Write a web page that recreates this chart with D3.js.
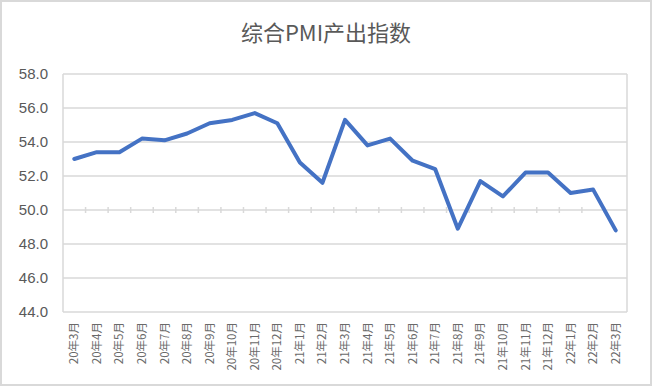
<!DOCTYPE html>
<html>
<head>
<meta charset="utf-8">
<script src="https://cdn.jsdelivr.net/npm/d3@7"></script>
<style>
  body { margin: 0; background: #fff; }
  svg { display: block; }
</style>
</head>
<body>
<svg id="chart"></svg>
<script>
const months = ["20年3月", "20年4月", "20年5月", "20年6月", "20年7月", "20年8月", "20年9月",
    "20年10月", "20年11月", "20年12月", "21年1月", "21年2月", "21年3月", "21年4月", "21年5月",
    "21年6月", "21年7月", "21年8月", "21年9月", "21年10月", "21年11月", "21年12月",
    "22年1月", "22年2月", "22年3月"];
const pmi = [53.0, 53.4, 53.4, 54.2, 54.1, 54.5, 55.1, 55.3, 55.7, 55.1, 52.8, 51.6, 55.3,
    53.8, 54.2, 52.9, 52.4, 48.9, 51.7, 50.8, 52.2, 52.2, 51.0, 51.2, 48.8];
const yTicks = [44, 46, 48, 50, 52, 54, 56, 58];

const svgWidth = 652, svgHeight = 386;
const margin = { top: 74, right: 25, bottom: 74, left: 63 };
const width = svgWidth - margin.left - margin.right;
const height = svgHeight - margin.top - margin.bottom;
const grey = "#d9d9d9";
const textColor = "#595959";

let svg = d3.select("#chart")
    .attr("width", svgWidth)
    .attr("height", svgHeight);

// outer chart border
svg.append("rect")
    .attr("x", 1).attr("y", 1)
    .attr("width", svgWidth - 2).attr("height", svgHeight - 2)
    .attr("fill", "#fff")
    .attr("stroke", grey)
    .attr("stroke-width", 2);

svg.append("text")
    .attr("x", 326)
    .attr("y", 41)
    .attr("text-anchor", "middle")
    .style("font-family", "'Noto Sans CJK SC', sans-serif")
    .style("font-size", "22px")
    .style("fill", textColor)
    .text("综合PMI产出指数");

let g = svg.append("g")
    .attr("transform", `translate(${margin.left},${margin.top})`);

const x = d3.scaleBand()
    .domain(months)
    .range([0, width]);

const y = d3.scaleLinear()
    .domain([44, 58])
    .range([height, 0]);

// gridlines
g.selectAll(".grid")
    .data(yTicks)
    .join("line")
    .attr("class", "grid")
    .attr("x1", 0).attr("x2", width)
    .attr("y1", d => y(d)).attr("y2", d => y(d))
    .attr("stroke", grey)
    .attr("stroke-width", 1.5);

// plot area sides
g.append("line")
    .attr("x1", 0).attr("x2", 0).attr("y1", 0).attr("y2", height)
    .attr("stroke", grey).attr("stroke-width", 1.5);
g.append("line")
    .attr("x1", width).attr("x2", width).attr("y1", 0).attr("y2", height)
    .attr("stroke", grey).attr("stroke-width", 1.5);

// y axis labels
let yAxis = g.append("g")
    .call(d3.axisLeft(y).tickValues(yTicks).tickFormat(d3.format(".1f")).tickSize(0).tickPadding(15));
yAxis.select(".domain").remove();
yAxis.selectAll("text")
    .style("font-family", "'Liberation Sans', Arial, sans-serif")
    .style("font-size", "15px")
    .style("fill", textColor);

// horizontal axis crosses at 50, tick marks between categories
let xAxisLine = g.append("g")
    .attr("transform", `translate(0,${y(50)})`);
xAxisLine.selectAll(".tick-mark")
    .data(months.slice(1))
    .join("line")
    .attr("class", "tick-mark")
    .attr("x1", d => x(d)).attr("x2", d => x(d))
    .attr("y1", -3).attr("y2", 3)
    .attr("stroke", grey)
    .attr("stroke-width", 1.5);

// category labels at the bottom
let xAxis = g.append("g")
    .attr("transform", `translate(0,${height})`)
    .call(d3.axisBottom(x).tickSize(0).tickPadding(0));
xAxis.select(".domain").remove();
xAxis.selectAll("text")
    .attr("transform", "rotate(-90)")
    .attr("x", -10)
    .attr("y", 0)
    .attr("dy", "0.35em")
    .attr("text-anchor", "end")
    .style("font-family", "'Noto Sans CJK SC', sans-serif")
    .style("font-size", "11.5px")
    .style("fill", "#6a6a6a");

const line = d3.line()
    .x((d, i) => x(months[i]) + x.bandwidth() / 2)
    .y(d => y(d));

g.append("path")
    .datum(pmi)
    .attr("d", line)
    .attr("fill", "none")
    .attr("stroke", "#4472c4")
    .attr("stroke-width", 4)
    .attr("stroke-linejoin", "round")
    .attr("stroke-linecap", "round");
</script>
</body>
</html>
